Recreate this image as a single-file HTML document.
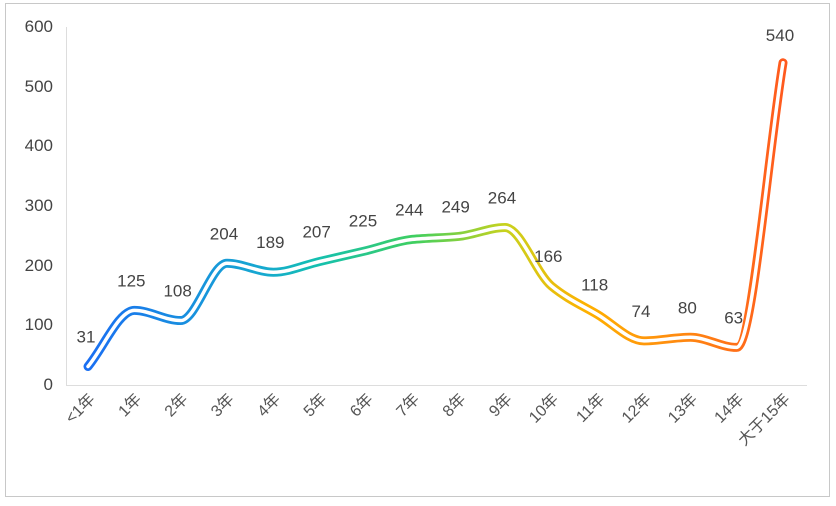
<!DOCTYPE html>
<html><head><meta charset="utf-8"><style>
html,body{margin:0;padding:0;background:#fff;}
svg{display:block;font-family:"Liberation Sans","Noto Sans CJK SC",sans-serif;}
</style></head><body>
<svg id="s" width="836" height="506" xmlns="http://www.w3.org/2000/svg">
<defs><linearGradient id="g" gradientUnits="userSpaceOnUse" x1="88" y1="0" x2="783" y2="0">
<stop offset="0" stop-color="#1a6ff2"/>
<stop offset="0.25" stop-color="#16a8d0"/>
<stop offset="0.33" stop-color="#14c0b0"/>
<stop offset="0.47" stop-color="#3fcf60"/>
<stop offset="0.6" stop-color="#c8d21e"/>
<stop offset="0.72" stop-color="#ffb000"/>
<stop offset="0.85" stop-color="#ff8a10"/>
<stop offset="1" stop-color="#ff5a1e"/>
</linearGradient></defs>
<rect x="5.5" y="3.5" width="824" height="493" fill="#fff" stroke="#c8c8c8"/>
<line x1="66.5" y1="27" x2="66.5" y2="385" stroke="#ddd"/>
<line x1="66" y1="385.5" x2="807" y2="385.5" stroke="#ddd"/>
<g font-size="17" fill="#444" text-anchor="end">
<text x="53" y="32">600</text><text x="53" y="92">500</text><text x="53" y="151">400</text>
<text x="53" y="211">300</text><text x="53" y="271">200</text><text x="53" y="330">100</text><text x="53" y="390">0</text>
</g>
<g id="xl" font-size="16" fill="#555" text-anchor="end"></g>
<path id="p1" fill="none" stroke="url(#g)" stroke-width="9" stroke-linecap="round" stroke-linejoin="round"/>
<path id="p2" fill="none" stroke="#fff" stroke-width="3.5" stroke-linecap="round" stroke-linejoin="round"/>
<g id="vl" font-size="17" fill="#444" text-anchor="middle"></g>
</svg>
<script>
var v=[31,125,108,204,189,207,225,244,249,264,166,118,74,80,63,540];
var n=["<1年","1年","2年","3年","4年","5年","6年","7年","8年","9年","10年","11年","12年","13年","14年","大于15年"];
var P=v.map(function(a,i){return [88+i*46.333,385-a*0.5967];});
var N=P.length,h=46.333,dl=[],m=[];
for(var i=0;i<N-1;i++)dl.push((P[i+1][1]-P[i][1])/h);
m[0]=dl[0];m[N-1]=dl[N-2];
for(i=1;i<N-1;i++){ if(dl[i-1]*dl[i]<=0)m[i]=0; else m[i]=2/(1/dl[i-1]+1/dl[i]); }
var d="M"+P[0][0]+","+P[0][1];
for(i=0;i<N-1;i++){
 var p1=P[i],p2=P[i+1];
 d+=" C"+(p1[0]+h/3)+","+(p1[1]+m[i]*h/3)+" "+(p2[0]-h/3)+","+(p2[1]-m[i+1]*h/3)+" "+p2[0]+","+p2[1];
}
document.getElementById("p1").setAttribute("d",d);
document.getElementById("p2").setAttribute("d",d);
var ns="http://www.w3.org/2000/svg",xl=document.getElementById("xl"),vl=document.getElementById("vl");
P.forEach(function(p,i){
 var t=document.createElementNS(ns,"text");
 t.setAttribute("transform","translate("+(p[0]+8)+",400) rotate(-45)");
 t.textContent=n[i];xl.appendChild(t);
 var u=document.createElementNS(ns,"text");
 u.setAttribute("x",p[0]-(i==0?2:3));u.setAttribute("y",p[1]-(i==15?22:24));
 u.textContent=v[i];vl.appendChild(u);
});
</script>
</body></html>
